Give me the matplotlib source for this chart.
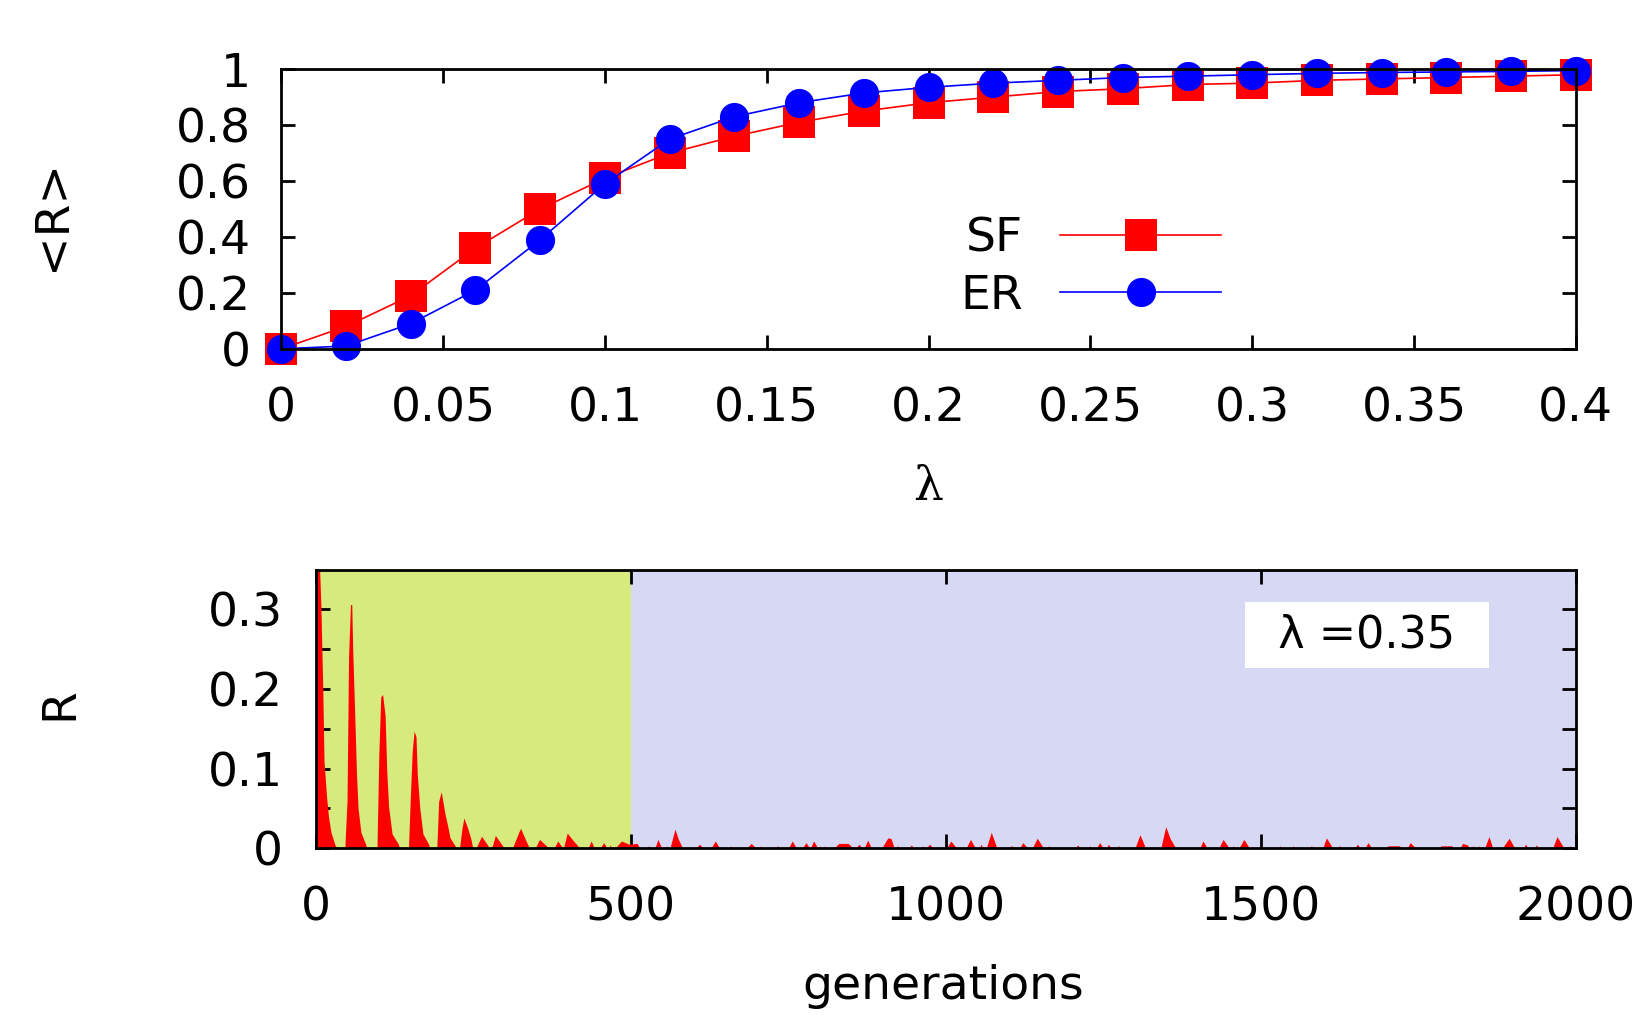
#!/usr/bin/env python3
# two panel figure: <R> vs lambda for SF/ER networks, and R vs generations
import numpy as np
import matplotlib
matplotlib.use('Agg')
import matplotlib.pyplot as plt

plt.rcParams['font.family'] = ['DejaVu Sans']
plt.rcParams['font.size'] = 34

######### top panel data #########
lam = [0.0, 0.02, 0.04, 0.06, 0.08, 0.10, 0.12, 0.14, 0.16, 0.18, 0.20,
       0.22, 0.24, 0.26, 0.28, 0.30, 0.32, 0.34, 0.36, 0.38, 0.40]
R_SF = [0.0, 0.08, 0.19, 0.36, 0.50, 0.61, 0.70, 0.76, 0.81, 0.85, 0.88,
        0.90, 0.92, 0.93, 0.945, 0.95, 0.96, 0.965, 0.97, 0.975, 0.98]
R_ER = [0.0, 0.01, 0.09, 0.21, 0.39, 0.59, 0.75, 0.83, 0.88, 0.915, 0.935,
        0.95, 0.96, 0.97, 0.975, 0.98, 0.985, 0.988, 0.99, 0.992, 0.995]
lam_ticks = [0, 0.05, 0.1, 0.15, 0.2, 0.25, 0.3, 0.35, 0.4]
lam_labels = ['0', '0.05', '0.1', '0.15', '0.2', '0.25', '0.3', '0.35', '0.4']
Rmean_ticks = [0, 0.2, 0.4, 0.6, 0.8, 1]
Rmean_labels = ['0', '0.2', '0.4', '0.6', '0.8', '1']

######### bottom panel data (R trace, lambda=0.35) #########
trace = [
    (0, 0.35), (6, 0.35), (8, 0.306), (11, 0.2), (13, 0.109), (17, 0.065),
    (20, 0.04), (24, 0.02), (30, 0.005), (33, 0),
    (46, 0), (49.5, 0.06), (52, 0.243), (55, 0.306), (57, 0.306), (58.5, 0.25),
    (61, 0.187), (64.5, 0.094), (67, 0.05), (71.5, 0.02), (79, 0.005), (81, 0),
    (97, 0), (100, 0.118), (103, 0.19), (106, 0.193), (110, 0.166), (112.5, 0.098),
    (115.5, 0.052), (121, 0.018), (131, 0.005), (133, 0),
    (147, 0), (150, 0.065), (153, 0.122), (156, 0.147), (159, 0.14), (161, 0.093),
    (165, 0.05), (170, 0.018), (179, 0.005), (181, 0),
    (192, 0), (195, 0.059), (199, 0.071), (205, 0.043), (209, 0.029), (213, 0.013),
    (221, 0.003), (223, 0),
    (228, 0), (232, 0.025), (235, 0.038), (241, 0.025), (246, 0.012), (249, 0),
    (254, 0), (263, 0.015), (276, 0),
    (279, 0), (285, 0.016), (299, 0),
    (312, 0), (322, 0.02), (325, 0.025), (332, 0.012), (339, 0),
    (348, 0), (355, 0.011), (370, 0),
    (378, 0), (384, 0.009), (392, 0),
    (393, 0), (399, 0.019), (408, 0.01), (419, 0),
    (432, 0), (437, 0.009), (442, 0),
    (451, 0), (457, 0.007), (462, 0),
    (465, 0), (467, 0.004), (470, 0),
    (475, 0), (485, 0.009), (497, 0.005), (510, 0.006), (514, 0),
    (526, 0), (528, 0.003), (531, 0),
    (538, 0), (543, 0.011), (549, 0),
    (555, 0), (557, 0.003), (559, 0),
    (562, 0), (570, 0.024), (575, 0.012), (582, 0),
    (603, 0), (609, 0.005), (615, 0),
    (627, 0), (634, 0.009), (641, 0),
    (657, 0), (659, 0.003), (661, 0),
    (684, 0), (691, 0.006), (699, 0),
    (704, 0), (706, 0.003), (708, 0),
    (729, 0), (733, 0.003), (737, 0),
    (750, 0), (756, 0.009), (763, 0),
    (772, 0), (778, 0.007), (784, 0),
    (785, 0), (790, 0.009), (797, 0),
    (799, 0), (800, 0.003), (802, 0),
    (806, 0), (808, 0.003), (810, 0),
    (822, 0), (830, 0.006), (845, 0.006), (853, 0),
    (857, 0), (862, 0.005), (867, 0),
    (870, 0), (876, 0.010), (882, 0),
    (898, 0), (908, 0.013), (913, 0.012), (918, 0),
    (920, 0), (923, 0.003), (926, 0),
    (941, 0), (945, 0.004), (950, 0),
    (961, 0), (963, 0.003), (966, 0),
    (969, 0), (974, 0.005), (980, 0),
    (1001, 0), (1008, 0.009), (1017, 0),
    (1032, 0), (1039, 0.011), (1047, 0),
    (1053, 0), (1056, 0.005), (1059, 0),
    (1064, 0), (1072, 0.02), (1081, 0),
    (1097, 0), (1104, 0.003), (1111, 0),
    (1117, 0), (1122, 0.007), (1130, 0),
    (1137, 0), (1145, 0.0125), (1155, 0),
    (1160, 0), (1163, 0.003), (1166, 0),
    (1205, 0), (1209, 0.004), (1214, 0),
    (1226, 0), (1228, 0.003), (1231, 0),
    (1239, 0), (1244, 0.007), (1250, 0),
    (1255, 0), (1258, 0.005), (1262, 0),
    (1270, 0), (1274, 0.003), (1279, 0),
    (1300, 0), (1308, 0.017), (1317, 0),
    (1341, 0), (1349, 0.027), (1356, 0.012), (1365, 0),
    (1403, 0), (1408, 0.009), (1415, 0),
    (1433, 0), (1440, 0.011), (1450, 0),
    (1454, 0), (1456, 0.003), (1459, 0),
    (1465, 0), (1473, 0.011), (1482, 0),
    (1499, 0), (1501, 0.003), (1503, 0),
    (1527, 0), (1530, 0.003), (1533, 0),
    (1549, 0), (1551, 0.003), (1554, 0),
    (1577, 0), (1580, 0.003), (1584, 0),
    (1598, 0), (1604, 0.013), (1614, 0),
    (1620, 0), (1625, 0.003), (1631, 0),
    (1649, 0), (1653, 0.005), (1658, 0),
    (1665, 0), (1670, 0.007), (1676, 0),
    (1697, 0), (1702, 0.003), (1720, 0.003), (1722, 0),
    (1732, 0), (1737, 0.007), (1746, 0),
    (1782, 0), (1786, 0.003), (1803, 0.003), (1806, 0),
    (1816, 0), (1820, 0.006), (1828, 0.004), (1831, 0),
    (1834, 0), (1836, 0.003), (1839, 0),
    (1844, 0), (1846, 0.003), (1849, 0),
    (1855, 0), (1862, 0.0146), (1868, 0),
    (1883, 0), (1894, 0.0125), (1903, 0),
    (1917, 0), (1920, 0.005), (1924, 0),
    (1934, 0), (1937, 0.004), (1941, 0),
    (1963, 0), (1970, 0.0146), (1981, 0),
    (1987, 0), (1990, 0.003), (1993, 0),
]
gen = np.array([p[0] for p in trace])
R = np.array([p[1] for p in trace])
transient_end = 500
gen_ticks = [0, 500, 1000, 1500, 2000]
gen_labels = ['0', '500', '1000', '1500', '2000']
R_ticks = [0, 0.05, 0.1, 0.15, 0.2, 0.25, 0.3]
R_labels = ['0', '', '0.1', '', '0.2', '', '0.3']

###############################
fig = plt.figure(figsize=(16.45, 10.17), dpi=100)
ax1 = fig.add_axes([0.171, 0.657, 0.787, 0.275])
ax2 = fig.add_axes([0.192, 0.166, 0.766, 0.274])

def style_axes(ax, xpad, ypad):
    ax.tick_params(direction='in', length=10, width=2, top=True, right=True)
    ax.tick_params(axis='x', pad=xpad)
    ax.tick_params(axis='y', pad=ypad)
    for s in ax.spines.values():
        s.set_linewidth(2)
        s.set_zorder(6)

#########top panel##################
ax1.plot(lam, R_SF, color='red', lw=1.2, marker='s', ms=23, mew=0,
         label='SF', clip_on=False, zorder=3)
ax1.plot(lam, R_ER, color='blue', lw=1.2, marker='o', ms=21, mew=0,
         label='ER', clip_on=False, zorder=4)
ax1.set_xlim(0, 0.4)
ax1.set_ylim(0, 1)
ax1.set_xticks(lam_ticks)
ax1.set_xticklabels(lam_labels)
ax1.set_yticks(Rmean_ticks)
ax1.set_yticklabels(Rmean_labels)
style_axes(ax1, 27, 22)
ax1.set_xlabel('λ', family='DejaVu Serif', va='center')
ax1.xaxis.set_label_coords(0.5, -0.496)
ax1.set_ylabel('<R>', va='center')
ax1.yaxis.set_label_coords(-0.177, 0.48)
ax1.legend(loc='center', bbox_to_anchor=(0.625, 0.29), frameon=False,
           markerfirst=False, handlelength=3.4, handletextpad=0.8,
           labelspacing=0.25, borderpad=0)

#########bottom panel##################
ax2.axvspan(0, transient_end, color='#d6ea7e', lw=0, zorder=0)
ax2.axvspan(transient_end, 2000, color='#d7d8f4', lw=0, zorder=0)
ax2.fill_between(gen, 0, R, color='red', lw=0, zorder=2)
ax2.set_xlim(0, 2000)
ax2.set_ylim(0, 0.35)
ax2.set_xticks(gen_ticks)
ax2.set_xticklabels(gen_labels)
ax2.set_yticks(R_ticks)
ax2.set_yticklabels(R_labels)
style_axes(ax2, 27, 24)
ax2.set_xlabel('generations', va='center')
ax2.xaxis.set_label_coords(0.498, -0.496)
ax2.set_ylabel('R', va='center')
ax2.yaxis.set_label_coords(-0.203, 0.52)
ax2.text(0.834, 0.765, '\u2002λ =0.35\u2002', transform=ax2.transAxes,
         ha='center', va='center', fontsize=32,
         bbox=dict(boxstyle='square,pad=0.25', fc='white', ec='none'), zorder=5)

plt.savefig('out.png', dpi=100)
plt.close()
